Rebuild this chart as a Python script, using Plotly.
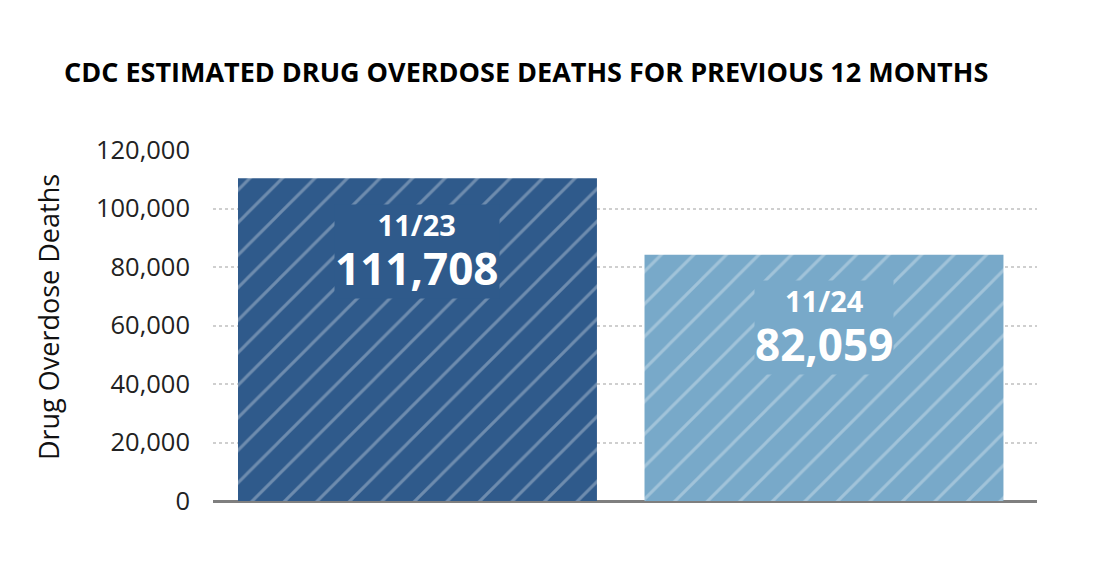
import plotly.graph_objects as go

# Data
periods = ["11/23", "11/24"]
bar_heights = [110300, 84200]          # heights of the drawn bars
value_labels = ["111,708", "82,059"]   # printed values
bar_colors = ["#2F5A8B", "#78A9C9"]
y_ticks = [0, 20000, 40000, 60000, 80000, 100000, 120000]
y_tick_text = ["0", "20,000", "40,000", "60,000", "80,000", "100,000", "120,000"]

FONT = "Open Sans"
x_pos = list(range(len(periods)))

# plot area in figure pixels
L, R, T, B = 205, 1029, 142, 493
W, H = 1096, 578

fig = go.Figure()
for i in range(len(periods)):
    fig.add_trace(go.Bar(
        x=[x_pos[i]], y=[bar_heights[i]], width=0.883,
        marker=dict(
            color=bar_colors[i], line=dict(width=0),
            pattern=dict(shape="/", fgcolor="#FFFFFF", fgopacity=0.3, size=23,
                         solidity=0.13, bgcolor=bar_colors[i], fillmode="overlay"),
        ),
        hoverinfo="skip", showlegend=False,
    ))

for i, (p, v, h, c) in enumerate(zip(periods, value_labels, bar_heights, bar_colors)):
    txt = (f"<span style='font-size:29px'><b>{p}</b></span><br>"
           f"<span style='font-size:44px'><b>{v}</b></span>")
    fig.add_annotation(x=x_pos[i], y=h, xref="x", yref="y", text=txt,
                       showarrow=False, yshift=-73, yanchor="middle", align="center",
                       font=dict(family=FONT, size=38, color="white"),
                       bgcolor=c, borderpad=0)

fig.add_annotation(x=(40 - L) / (R - L), y=0.524, xref="paper", yref="paper",
                   text="Drug Overdose Deaths", textangle=-90, showarrow=False,
                   xanchor="center", yanchor="middle",
                   font=dict(family=FONT, size=27, color="#111111"))

fig.update_layout(
    width=W, height=H,
    margin=dict(l=L, r=W - R, t=T, b=H - B),
    paper_bgcolor="white", plot_bgcolor="white",
    title=dict(text="<b>CDC ESTIMATED DRUG OVERDOSE DEATHS FOR PREVIOUS 12 MONTHS</b>",
               x=56 / W, xanchor="left", xref="container",
               y=1 - 65 / H, yanchor="middle", yref="container",
               font=dict(family=FONT, size=27, color="#000000")),
    xaxis=dict(range=[-0.503, 1.524], showticklabels=False, showgrid=False,
               zeroline=False, showline=False, fixedrange=True),
    yaxis=dict(range=[0, 120000], tickvals=y_ticks, ticktext=y_tick_text,
               showgrid=True, gridcolor="#CFCFCF", gridwidth=2, griddash="dot",
               zeroline=True, zerolinecolor="#7F7F7F", zerolinewidth=3,
               showline=False, ticks="", ticklabelstandoff=22,
               tickfont=dict(family=FONT, size=25.5, color="#222222")),
)

fig.write_html("out.html")
